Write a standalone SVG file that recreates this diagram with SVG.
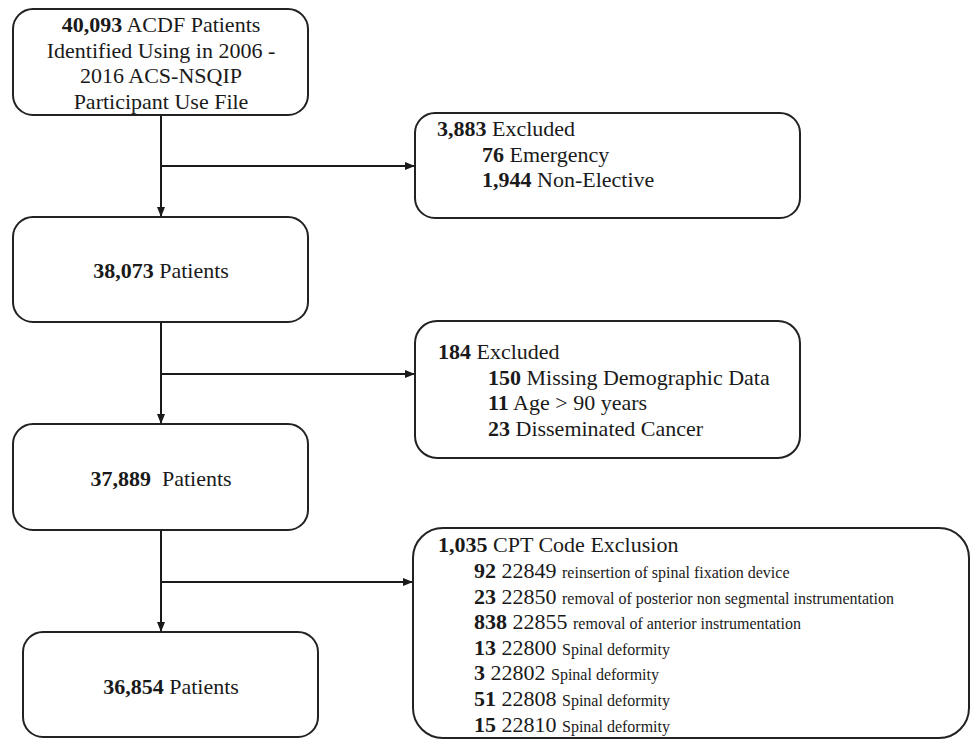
<svg xmlns="http://www.w3.org/2000/svg" width="971" height="739" viewBox="0 0 971 739">
<defs>
<marker id="arr" markerWidth="10" markerHeight="8" refX="9" refY="4" orient="auto" markerUnits="userSpaceOnUse">
<path d="M0,0 L10,4 L0,8 Z" fill="#1a1a1a"/>
</marker>
</defs>
<style>
.box{fill:#fff;stroke:#222;stroke-width:2}
.t{font-family:"Liberation Serif","Times New Roman",serif;font-size:22px;fill:#1a1a1a}
.b{font-weight:bold}
.s{font-size:16px}
.c{text-anchor:middle}
.ln{stroke:#1a1a1a;stroke-width:2;fill:none}
</style>
<rect width="971" height="739" fill="#fff"/>
<g id="connectors">
<line class="ln" x1="161" y1="115" x2="161" y2="216" marker-end="url(#arr)"/>
<line class="ln" x1="161" y1="166" x2="414" y2="166" marker-end="url(#arr)"/>
<line class="ln" x1="161" y1="322" x2="161" y2="423" marker-end="url(#arr)"/>
<line class="ln" x1="161" y1="374" x2="414" y2="374" marker-end="url(#arr)"/>
<line class="ln" x1="161" y1="530" x2="161" y2="631" marker-end="url(#arr)"/>
<line class="ln" x1="161" y1="582" x2="412" y2="582" marker-end="url(#arr)"/>
</g>
<g id="n1">
<rect class="box" x="13" y="9" width="295" height="106" rx="20"/>
<text class="t c" x="161" y="32"><tspan class="b">40,093</tspan> ACDF Patients</text>
<text class="t c" x="161" y="58">Identified Using in 2006 -</text>
<text class="t c" x="161" y="83">2016 ACS-NSQIP</text>
<text class="t c" x="161" y="109">Participant Use File</text>
</g>
<g id="n2">
<rect class="box" x="13" y="217" width="295" height="105" rx="20"/>
<text class="t c" x="161" y="278"><tspan class="b">38,073</tspan> Patients</text>
</g>
<g id="n3">
<rect class="box" x="13" y="424" width="295" height="106" rx="20"/>
<text class="t c" x="161" y="486" xml:space="preserve"><tspan class="b">37,889</tspan>  Patients</text>
</g>
<g id="n4">
<rect class="box" x="23" y="632" width="295" height="105" rx="20"/>
<text class="t c" x="171" y="694"><tspan class="b">36,854</tspan> Patients</text>
</g>
<g id="e1">
<rect class="box" x="415" y="113" width="385" height="105" rx="20"/>
<text class="t" x="437" y="136"><tspan class="b">3,883</tspan> Excluded</text>
<text class="t" x="482" y="162"><tspan class="b">76</tspan> Emergency</text>
<text class="t" x="482" y="187"><tspan class="b">1,944</tspan> Non-Elective</text>
</g>
<g id="e2">
<rect class="box" x="415" y="321" width="385" height="137" rx="22"/>
<text class="t" x="438" y="359"><tspan class="b">184</tspan> Excluded</text>
<text class="t" x="488" y="385"><tspan class="b">150</tspan> Missing Demographic Data</text>
<text class="t" x="488" y="410"><tspan class="b">11</tspan> Age &gt; 90 years</text>
<text class="t" x="488" y="436"><tspan class="b">23</tspan> Disseminated Cancer</text>
</g>
<g id="e3">
<rect class="box" x="413" y="528" width="556" height="210" rx="30"/>
<text class="t" x="438" y="552"><tspan class="b">1,035</tspan> CPT Code Exclusion</text>
<text class="t" x="474" y="578"><tspan class="b">92</tspan> 22849 <tspan class="s">reinsertion of spinal fixation device</tspan></text>
<text class="t" x="474" y="604"><tspan class="b">23</tspan> 22850 <tspan class="s">removal of posterior non segmental instrumentation</tspan></text>
<text class="t" x="474" y="629"><tspan class="b">838</tspan> 22855 <tspan class="s">removal of anterior instrumentation</tspan></text>
<text class="t" x="474" y="655"><tspan class="b">13</tspan> 22800 <tspan class="s">Spinal deformity</tspan></text>
<text class="t" x="474" y="680"><tspan class="b">3</tspan> 22802 <tspan class="s">Spinal deformity</tspan></text>
<text class="t" x="474" y="706"><tspan class="b">51</tspan> 22808 <tspan class="s">Spinal deformity</tspan></text>
<text class="t" x="474" y="732"><tspan class="b">15</tspan> 22810 <tspan class="s">Spinal deformity</tspan></text>
</g>
</svg>
